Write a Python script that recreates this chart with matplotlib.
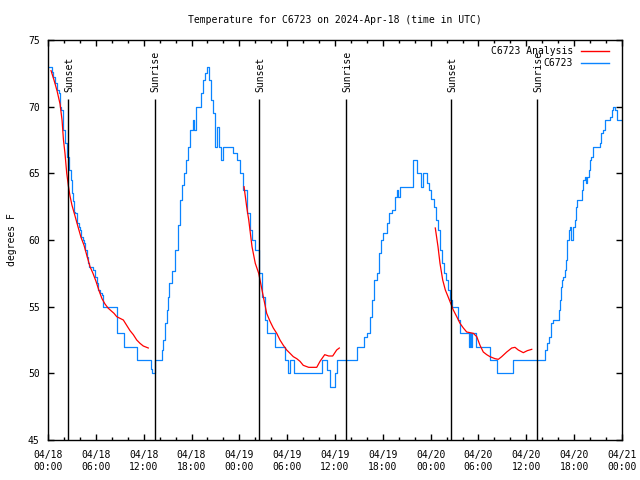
import matplotlib
matplotlib.use("Agg")
import matplotlib.pyplot as plt
import numpy as np

# ---- data (hours since 2024-04-18 00:00 UTC) ----
obs_hours = [0.00, 0.50, 0.66, 0.92, 1.09, 1.34, 1.51, 1.67, 1.92, 2.17, 2.35, 2.60, 2.67, 2.85,
             3.01, 3.10, 3.26, 3.42, 3.60, 3.85, 4.01, 4.18, 4.35, 4.52, 4.68, 4.85, 5.02, 5.11,
             5.61, 5.86, 6.11, 6.27, 6.52, 6.77, 6.94, 8.62, 9.53, 11.13, 12.88, 13.05, 13.48,
             14.24, 14.46, 14.64, 14.89, 15.05, 15.22, 15.55, 15.93, 16.31, 16.56, 16.81, 17.06,
             17.31, 17.56, 17.81, 18.15, 18.31, 18.56, 19.23, 19.48, 19.73, 19.91, 20.16, 20.45,
             20.74, 20.99, 21.24, 21.41, 21.74, 21.99, 23.24, 23.67, 24.08, 24.50, 24.92, 25.34,
             25.59, 26.00, 26.51, 26.84, 27.18, 27.43, 28.44, 29.69, 30.11, 30.36, 30.86, 34.37,
             34.96, 35.37, 36.04, 36.29, 38.80, 39.64, 39.98, 40.39, 40.64, 40.89, 41.23, 41.48,
             41.81, 42.06, 42.49, 42.81, 43.15, 43.49, 43.74, 43.90, 44.15, 45.82, 46.32, 46.83,
             47.08, 47.50, 47.75, 48.08, 48.42, 48.67, 48.92, 49.17, 49.42, 49.67, 49.92, 50.18,
             50.43, 50.68, 51.43, 51.68, 52.87, 52.97, 53.12, 53.22, 53.69, 55.44, 56.36, 58.37,
             62.38, 62.56, 62.81, 63.06, 63.31, 63.39, 64.06, 64.22, 64.39, 64.48, 64.64, 64.81,
             64.98, 65.14, 65.32, 65.48, 65.64, 65.82, 66.07, 66.23, 66.40, 66.98, 67.15, 67.33,
             67.49, 67.65, 67.82, 67.99, 68.15, 68.33, 69.24, 69.41, 69.66, 69.91, 70.50, 70.75,
             70.91, 71.08, 71.33, 72.00]
obs_temp = [73.0, 72.6, 72.25, 71.75, 71.25, 71.0, 70.0, 69.75, 68.25, 67.25, 66.25, 65.75, 65.25, 64.5,
            63.5, 62.9, 62.1, 62.0, 61.25, 61.0, 60.75, 60.25, 60.0, 59.75, 59.25, 58.75, 58.25, 58.0,
            57.75, 57.25, 56.75, 56.25, 56.0, 55.9, 55.0, 53.0, 52.0, 51.0, 50.3, 50.0, 51.0,
            51.75, 52.5, 53.75, 54.75, 55.75, 56.75, 57.7, 59.25, 61.1, 63.0, 64.1, 65.0,
            66.0, 67.0, 68.25, 69.0, 68.25, 70.0, 71.0, 72.0, 72.5, 73.0, 72.0, 70.5,
            69.5, 67.0, 68.5, 67.0, 66.0, 67.0, 66.5, 66.0, 65.0, 63.75, 62.0, 60.75,
            60.0, 59.25, 57.5, 55.75, 54.0, 53.0, 52.0, 51.0, 50.0, 51.0, 50.0, 51.0,
            50.25, 49.0, 50.0, 51.0, 52.0, 52.75, 53.0, 54.25, 55.5, 57.0, 57.5, 59.0,
            60.0, 60.5, 61.25, 62.0, 62.25, 63.25, 63.75, 63.25, 64.0, 66.0, 65.0, 64.0,
            65.0, 64.25, 63.75, 63.1, 62.5, 61.5, 60.75, 59.25, 58.25, 57.5, 57.0, 56.25,
            55.5, 55.0, 54.0, 53.0, 52.0, 53.0, 52.0, 53.0, 52.0, 51.0, 50.0, 51.0,
            51.75, 52.25, 52.75, 53.75, 54.0, 54.0, 54.75, 55.5, 56.5, 57.0, 57.25, 57.75,
            58.5, 60.0, 60.75, 61.0, 60.0, 61.0, 61.5, 62.5, 63.0, 63.75, 64.5, 64.75,
            64.25, 64.75, 65.25, 66.0, 66.25, 67.0, 67.25, 68.0, 68.25, 69.0, 69.25, 69.75,
            70.0, 69.75, 69.0, 69.0]

ana_hours = [0.38, 0.75, 1.13, 1.51, 1.76, 1.94, 2.13, 2.35, 2.57, 2.76, 3.01, 3.39, 3.76, 4.14,
             4.52, 4.89, 5.27, 5.64, 6.02, 6.40, 6.77, 7.15, 7.53, 7.90, 8.28, 8.62, 9.45, 9.87,
             10.29, 10.70, 11.13, 11.54, 11.95, 12.58, np.nan,
             24.59, 24.92, 25.18, 25.59, 26.00, 26.43, 26.68, 27.01, 27.43, 27.85, 28.26, 28.69,
             29.10, 29.52, 29.94, 30.36, 30.77, 31.20, 31.61, 32.02, 32.70, 33.71, 34.12, 34.71,
             35.21, 35.71, 36.21, 36.54, np.nan,
             48.58, 48.92, 49.17, 49.51, 49.84, 50.18, 50.51, 50.84, 51.27, 51.68, 52.10, 52.52,
             52.94, 53.35, 53.78, 54.19, 54.60, 55.03, 55.44, 56.07, 56.49, 56.91, 57.54, 58.17,
             58.58, 58.99, 59.62, 60.12, 60.68]
ana_temp = [72.7, 72.0, 71.2, 70.2, 69.0, 67.5, 66.5, 65.0, 64.0, 63.3, 62.6, 61.8, 61.0, 60.2,
            59.6, 58.8, 58.0, 57.5, 56.9, 56.2, 55.6, 55.2, 54.9, 54.7, 54.5, 54.25, 54.0, 53.6,
            53.2, 52.9, 52.5, 52.25, 52.05, 51.9, np.nan,
            64.0, 62.5, 61.5, 59.5, 58.25, 57.5, 56.75, 55.75, 54.5, 53.9, 53.4, 53.0,
            52.5, 52.1, 51.75, 51.5, 51.25, 51.1, 50.9, 50.6, 50.45, 50.45, 50.9, 51.4,
            51.3, 51.3, 51.75, 51.9, np.nan,
            60.9, 59.5, 58.25, 57.0, 56.25, 55.75, 55.25, 54.75, 54.25, 53.75, 53.4, 53.1,
            53.05, 53.0, 52.75, 52.1, 51.6, 51.4, 51.25, 51.1, 51.05, 51.25, 51.6, 51.9,
            51.95, 51.75, 51.55, 51.7, 51.8]

sun_hours = [2.55, 13.38, 26.52, 37.40, 50.57, 61.40]
sun_labels = ["Sunset", "Sunrise", "Sunset", "Sunrise", "Sunset", "Sunrise"]

xtick_hours = [0, 6, 12, 18, 24, 30, 36, 42, 48, 54, 60, 66, 72]
xtick_labels = ["04/18\n00:00", "04/18\n06:00", "04/18\n12:00", "04/18\n18:00",
                "04/19\n00:00", "04/19\n06:00", "04/19\n12:00", "04/19\n18:00",
                "04/20\n00:00", "04/20\n06:00", "04/20\n12:00", "04/20\n18:00",
                "04/21\n00:00"]
ytick_vals = [45, 50, 55, 60, 65, 70, 75]

RED = "#ff0000"
BLUE = "#0a84ff"
FONT = "DejaVu Sans Mono"
FS = 7

plt.rcParams['font.family'] = FONT
fig = plt.figure(figsize=(6.4, 4.8), dpi=100)
ax = fig.add_axes([48/640, 40/480, 574/640, 400/480])

ax.plot(ana_hours, ana_temp, color=RED, lw=0.9, zorder=3)
ax.plot(obs_hours, obs_temp, color=BLUE, lw=0.9, drawstyle='steps-post', zorder=2)

ax.vlines(sun_hours, 45, 70.55, color='black', lw=1.0, zorder=4)
for h, lab in zip(sun_hours, sun_labels):
    ax.text(h + 0.1, 71.1, lab, rotation=90, ha='center', va='bottom', fontsize=FS, family=FONT)

ax.set_xlim(0, 72)
ax.set_ylim(45, 75)
ax.set_xticks(xtick_hours)
ax.set_xticklabels(xtick_labels, fontsize=FS, family=FONT, linespacing=1.25)
ax.set_xticks(np.arange(0, 73, 2), minor=True)
ax.set_yticks(ytick_vals)
ax.set_yticklabels([str(v) for v in ytick_vals], fontsize=FS, family=FONT)
ax.tick_params(axis='both', which='major', direction='in', length=4, width=1,
               top=True, right=True, pad=6)
ax.tick_params(axis='x', which='minor', direction='in', length=2.2, width=1, top=True)
ax.tick_params(axis='x', which='major', pad=7)
for s in ax.spines.values():
    s.set_linewidth(1.0)

ax.set_ylabel("degrees F", fontsize=FS, family=FONT, labelpad=8)
ax.set_title("Temperature for C6723 on 2024-Apr-18 (time in UTC)", fontsize=FS,
             family=FONT, pad=12)

# legend (gnuplot style: right-aligned text, sample to the right)
leg_entries = [("C6723 Analysis", RED), ("C6723", BLUE)]
for i, (lab, col) in enumerate(leg_entries):
    yy = 0.973 - i * 0.030
    ax.text(0.915, yy, lab, transform=ax.transAxes, ha='right', va='center',
            fontsize=FS, family=FONT)
    ax.plot([0.929, 0.977], [yy, yy], transform=ax.transAxes, color=col, lw=1.0,
            clip_on=False)

fig.savefig("out.png", dpi=100)
